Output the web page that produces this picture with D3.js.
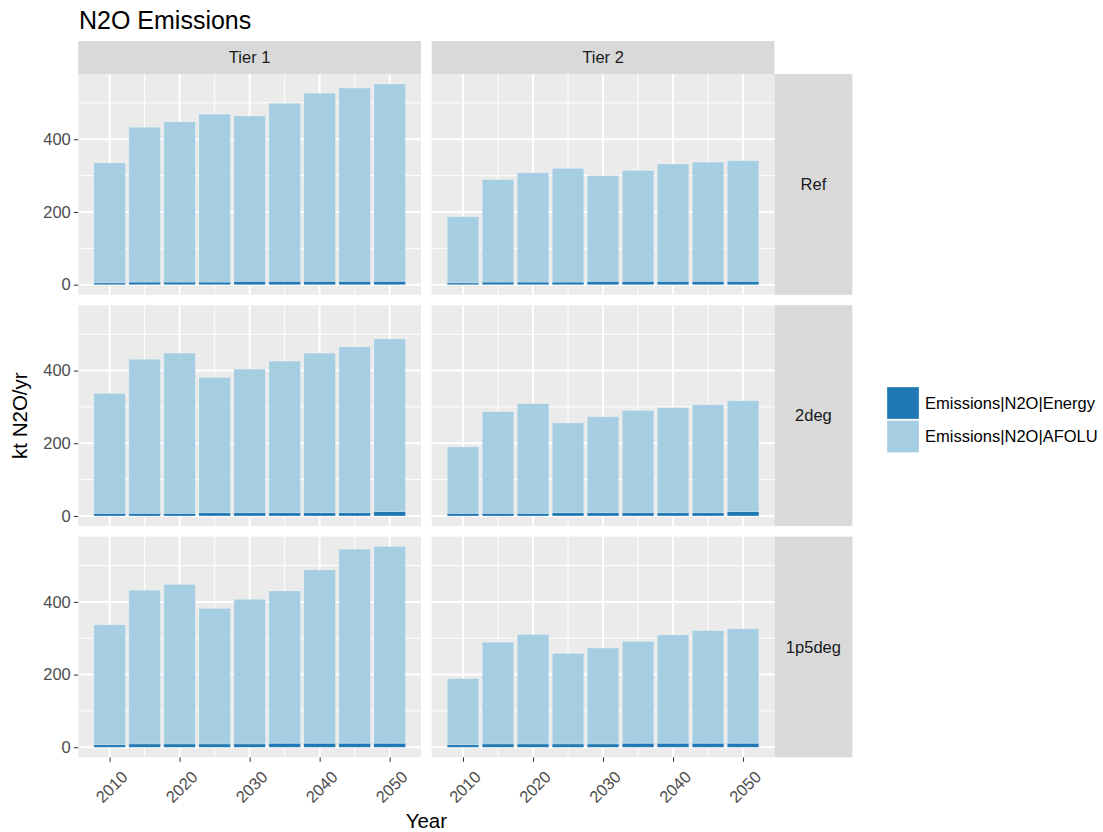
<!DOCTYPE html>
<html>
<head>
<meta charset="utf-8">
<script src="https://cdn.jsdelivr.net/npm/d3@7"></script>
<style>
  body { margin: 0; background: #fff; }
  svg { font-family: "Liberation Sans", Arial, sans-serif; }
</style>
</head>
<body>
<div id="chart"></div>
<script>
'use strict';

// データ
const years = [2010, 2015, 2020, 2025, 2030, 2035, 2040, 2045, 2050];
const tiers = ['Tier 1', 'Tier 2'];
const scenarios = ['Ref', '2deg', '1p5deg'];
const seriesNames = ['Emissions|N2O|Energy', 'Emissions|N2O|AFOLU'];
const yTicks = [0, 200, 400];
const xTicks = [2010, 2020, 2030, 2040, 2050];

// Energy (下段)
const energyRefT1 = [5, 7, 7, 7, 9, 9, 9, 9, 9];
const energyRefT2 = [5, 7, 7, 7, 9, 9, 9, 9, 9];
const energy2degT1 = [7, 7, 7, 9, 9, 9, 9, 9, 12];
const energy2degT2 = [7, 7, 7, 9, 9, 9, 9, 9, 12];
const energy1p5T1 = [7, 9, 9, 9, 9, 11, 11, 11, 11];
const energy1p5T2 = [7, 9, 9, 9, 9, 11, 11, 11, 11];

// AFOLU (上段)
const afoluRefT1 = [330, 426, 441, 462, 455, 490, 518, 532, 543];
const afoluRefT2 = [182, 282, 301, 313, 291, 305, 323, 328, 332];
const afolu2degT1 = [330, 424, 441, 372, 395, 417, 439, 456, 475];
const afolu2degT2 = [183, 280, 302, 247, 264, 281, 289, 297, 305];
const afolu1p5T1 = [330, 423, 439, 373, 398, 419, 477, 534, 541];
const afolu1p5T2 = [182, 280, 301, 249, 264, 280, 298, 310, 315];

const panelData = {
    'Ref': [[energyRefT1, afoluRefT1], [energyRefT2, afoluRefT2]],
    '2deg': [[energy2degT1, afolu2degT1], [energy2degT2, afolu2degT2]],
    '1p5deg': [[energy1p5T1, afolu1p5T1], [energy1p5T2, afolu1p5T2]]
};

const colors = ['#1F78B4', '#A6CEE3'];

// レイアウト
const width = 1103;
const height = 832;
const panelLeft = 78.3;
const panelW = 342.7;
const panelH = 220.7;
const gapX = 10.7;
const gapY = 10.6;
const stripTop = 41;
const panelTop = 74;
const stripW = 78;
const rightStripX = panelLeft + 2 * panelW + gapX;
const smallFont = '16.5px';

const svg = d3.select('#chart')
    .append('svg')
    .attr('width', width)
    .attr('height', height);

// 全体の最大値からy軸を決める (ggplotの5%拡張)
let maxTotal = 0;
scenarios.forEach(s => panelData[s].forEach(p => {
    years.forEach((y, i) => { maxTotal = Math.max(maxTotal, p[0][i] + p[1][i]); });
}));
const yScale = d3.scaleLinear()
    .domain([-0.05 * maxTotal, 1.05 * maxTotal])
    .range([panelH, 0]);

const barW = 4.5;
const xExt = [years[0] - barW / 2, years[years.length - 1] + barW / 2];
const xPad = (xExt[1] - xExt[0]) * 0.05;
const xScale = d3.scaleLinear()
    .domain([xExt[0] - xPad, xExt[1] + xPad])
    .range([0, panelW]);

const stack = d3.stack().keys([0, 1]);

// タイトル
svg.append('text')
    .attr('x', 79)
    .attr('y', 29)
    .attr('font-size', '25px')
    .attr('fill', '#000')
    .text('N2O Emissions');

// 上のストリップ
tiers.forEach((t, c) => {
    const x0 = panelLeft + c * (panelW + gapX);
    svg.append('rect')
        .attr('x', x0).attr('y', stripTop)
        .attr('width', panelW).attr('height', panelTop - stripTop)
        .attr('fill', '#D9D9D9');
    svg.append('text')
        .attr('x', x0 + panelW / 2)
        .attr('y', (stripTop + panelTop) / 2)
        .attr('dy', '0.35em')
        .attr('text-anchor', 'middle')
        .attr('font-size', smallFont)
        .attr('fill', '#1A1A1A')
        .text(t);
});

scenarios.forEach((s, r) => {
    const y0 = panelTop + r * (panelH + gapY);

    // 右のストリップ
    svg.append('rect')
        .attr('x', rightStripX).attr('y', y0)
        .attr('width', stripW).attr('height', panelH)
        .attr('fill', '#D9D9D9');
    svg.append('text')
        .attr('x', rightStripX + stripW / 2)
        .attr('y', y0 + panelH / 2)
        .attr('dy', '0.35em')
        .attr('text-anchor', 'middle')
        .attr('font-size', smallFont)
        .attr('fill', '#1A1A1A')
        .text(s);

    tiers.forEach((t, c) => {
        const x0 = panelLeft + c * (panelW + gapX);
        const g = svg.append('g').attr('transform', `translate(${x0},${y0})`);

        g.append('rect')
            .attr('width', panelW).attr('height', panelH)
            .attr('fill', '#EBEBEB');

        // 補助目盛り
        g.selectAll('.minorY')
            .data([100, 300, 500])
            .enter().append('line')
            .attr('x1', 0).attr('x2', panelW)
            .attr('y1', d => yScale(d)).attr('y2', d => yScale(d))
            .attr('stroke', '#fff').attr('stroke-width', 1);
        g.selectAll('.minorX')
            .data([2015, 2025, 2035, 2045])
            .enter().append('line')
            .attr('y1', 0).attr('y2', panelH)
            .attr('x1', d => xScale(d)).attr('x2', d => xScale(d))
            .attr('stroke', '#fff').attr('stroke-width', 1);
        // 主目盛り
        g.selectAll('.majorY')
            .data(yTicks)
            .enter().append('line')
            .attr('x1', 0).attr('x2', panelW)
            .attr('y1', d => yScale(d)).attr('y2', d => yScale(d))
            .attr('stroke', '#fff').attr('stroke-width', 2);
        g.selectAll('.majorX')
            .data(xTicks)
            .enter().append('line')
            .attr('y1', 0).attr('y2', panelH)
            .attr('x1', d => xScale(d)).attr('x2', d => xScale(d))
            .attr('stroke', '#fff').attr('stroke-width', 2);

        // 積み上げ棒
        const pd = panelData[s][c];
        const rows = years.map((y, i) => ({ year: y, 0: pd[0][i], 1: pd[1][i] }));
        const layers = stack(rows);
        layers.forEach((layer, k) => {
            g.selectAll('.bar' + k)
                .data(layer)
                .enter().append('rect')
                .attr('x', d => xScale(d.data.year - barW / 2))
                .attr('width', xScale(barW) - xScale(0))
                .attr('y', d => yScale(d[1]))
                .attr('height', d => yScale(d[0]) - yScale(d[1]))
                .attr('fill', colors[k])
                .attr('stroke', 'rgba(255,255,255,0.25)')
                .attr('stroke-width', 0.8);
        });

        // y軸
        if (c === 0) {
            const ya = svg.append('g')
                .attr('transform', `translate(${panelLeft},${y0})`)
                .call(d3.axisLeft(yScale).tickValues(yTicks).tickSize(4.5).tickPadding(3));
            ya.select('.domain').remove();
            ya.selectAll('line').attr('stroke', '#333');
            ya.selectAll('text').attr('font-size', smallFont).attr('fill', '#4D4D4D')
                .attr('font-family', null);
        }
        // x軸
        if (r === scenarios.length - 1) {
            const xa = svg.append('g')
                .attr('transform', `translate(${x0},${y0 + panelH})`)
                .call(d3.axisBottom(xScale).tickValues(xTicks).tickSize(4.5).tickFormat(d3.format('d')));
            xa.select('.domain').remove();
            xa.selectAll('line').attr('stroke', '#333');
            xa.selectAll('text')
                .attr('font-size', smallFont).attr('fill', '#4D4D4D')
                .attr('font-family', null)
                .attr('y', 0).attr('dy', '0.35em')
                .attr('text-anchor', 'middle')
                .attr('transform', 'translate(1.5,29.5) rotate(-45)');
        }
    });
});

// 軸タイトル
svg.append('text')
    .attr('x', panelLeft + panelW + gapX / 2)
    .attr('y', 828)
    .attr('text-anchor', 'middle')
    .attr('font-size', '20.5px')
    .attr('fill', '#000')
    .text('Year');
const plotMidY = panelTop + (3 * panelH + 2 * gapY) / 2;
svg.append('text')
    .attr('transform', `translate(27,${plotMidY}) rotate(-90)`)
    .attr('text-anchor', 'middle')
    .attr('font-size', '20.5px')
    .attr('fill', '#000')
    .text('kt N2O/yr');

// 凡例
const legend = svg.append('g').attr('transform', 'translate(887,387)');
seriesNames.forEach((name, i) => {
    legend.append('rect')
        .attr('x', 0).attr('y', i * 33.5)
        .attr('width', 32).attr('height', 32)
        .attr('fill', colors[i])
        .attr('stroke', 'rgba(255,255,255,0.3)');
    legend.append('text')
        .attr('x', 38).attr('y', i * 33.5 + 16)
        .attr('dy', '0.35em')
        .attr('font-size', smallFont)
        .attr('fill', '#000')
        .text(name);
});
</script>
</body>
</html>
